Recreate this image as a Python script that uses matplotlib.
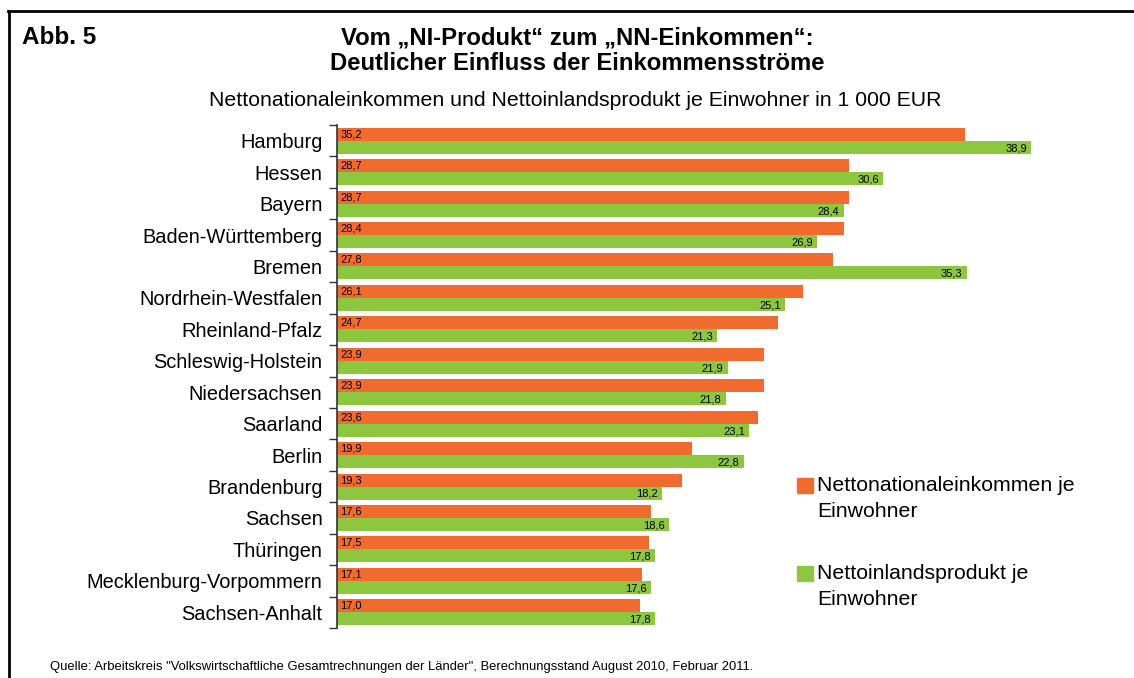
import numpy as np
import matplotlib.pyplot as plt
from matplotlib.lines import Line2D
from matplotlib.patches import Rectangle

# Daten je Land (1 000 EUR je Einwohner)
laender = ["Hamburg", "Hessen", "Bayern", "Baden-Württemberg", "Bremen",
           "Nordrhein-Westfalen", "Rheinland-Pfalz", "Schleswig-Holstein",
           "Niedersachsen", "Saarland", "Berlin", "Brandenburg", "Sachsen",
           "Thüringen", "Mecklenburg-Vorpommern", "Sachsen-Anhalt"]
nni = [35.2, 28.7, 28.7, 28.4, 27.8, 26.1, 24.7, 23.9, 23.9, 23.6,
       19.9, 19.3, 17.6, 17.5, 17.1, 17.0]
nip = [38.9, 30.6, 28.4, 26.9, 35.3, 25.1, 21.3, 21.9, 21.8, 23.1,
       22.8, 18.2, 18.6, 17.8, 17.6, 17.8]
leg_nni = "Nettonationaleinkommen je\nEinwohner"
leg_nip = "Nettoinlandsprodukt je\nEinwohner"

orange = "#F26B2E"
gruen = "#8DC63F"

plt.rcParams['font.family'] = ['Liberation Sans', 'DejaVu Sans']
narrow = ['Liberation Sans Narrow', 'Liberation Sans', 'DejaVu Sans']

fig = plt.figure(figsize=(11.34, 6.78), dpi=100)
ax = fig.add_axes([337 / 1134, 1 - 628 / 678, 714 / 1134, 503 / 678])

y = np.arange(len(laender))
h = 0.414
ax.barh(y - h / 2, nni, height=h, color=orange)
ax.barh(y + h / 2, nip, height=h, color=gruen)

for i in range(len(laender)):
    ax.text(0.2, y[i] - h / 2, f"{nni[i]:.1f}".replace(".", ","),
            ha="left", va="center", fontsize=8, family=narrow)
    ax.text(nip[i] - 0.25, y[i] + h / 2 + 0.03, f"{nip[i]:.1f}".replace(".", ","),
            ha="right", va="center", fontsize=8, family=narrow)

ax.set_xlim(0, 40)
ax.set_ylim(len(laender) - 0.5, -0.5)
ax.set_xticks([])
ax.set_yticks(np.arange(-0.5, len(laender), 1.0))
ax.set_yticklabels([])
ax.tick_params(axis="y", which="major", length=6, width=1, color="#333333")
ax.set_yticks(y, minor=True)
ax.set_yticklabels(laender, minor=True, fontsize=14.4)
ax.tick_params(axis="y", which="minor", length=0, pad=10.5)
for s in ["top", "right", "bottom"]:
    ax.spines[s].set_visible(False)
ax.spines["left"].set_color("#333333")
ax.spines["left"].set_linewidth(1.2)

# Legende
for yy, col, lab in [(485, orange, leg_nni), (573, gruen, leg_nip)]:
    fig.patches.append(Rectangle((797 / 1134, 1 - (yy + 8) / 678), 16 / 1134, 15 / 678,
                                 transform=fig.transFigure, color=col))
    fig.text(817 / 1134, 1 - (yy - 9) / 678, lab, ha="left", va="top",
             fontsize=15.3, linespacing=1.45)

# Titel
fig.text(22 / 1134, 1 - 38 / 678, "Abb. 5", fontsize=17.5, fontweight="bold",
         va="center", ha="left")
fig.text(577 / 1134, 1 - 51 / 678,
         "Vom \u201eNI-Produkt\u201c zum \u201eNN-Einkommen\u201c:\nDeutlicher Einfluss der Einkommensstr\u00f6me",
         fontsize=17.2, fontweight="bold", ha="center", va="center", linespacing=1.15)
fig.text(575 / 1134, 1 - 100 / 678,
         "Nettonationaleinkommen und Nettoinlandsprodukt je Einwohner in 1 000 EUR",
         fontsize=15.3, ha="center", va="center")
fig.text(50 / 1134, 1 - 667 / 678,
         'Quelle: Arbeitskreis "Volkswirtschaftliche Gesamtrechnungen der L\u00e4nder", '
         'Berechnungsstand August 2010, Februar 2011.',
         fontsize=9.4, ha="left", va="center", family=narrow)

# Rahmen
fig.add_artist(Line2D([8 / 1134, 1], [1 - 11 / 678] * 2, color="black", lw=2,
                      transform=fig.transFigure))
fig.add_artist(Line2D([9 / 1134] * 2, [1 - 11 / 678, 0], color="black", lw=2,
                      transform=fig.transFigure))

fig.savefig("out.png", dpi=100)
